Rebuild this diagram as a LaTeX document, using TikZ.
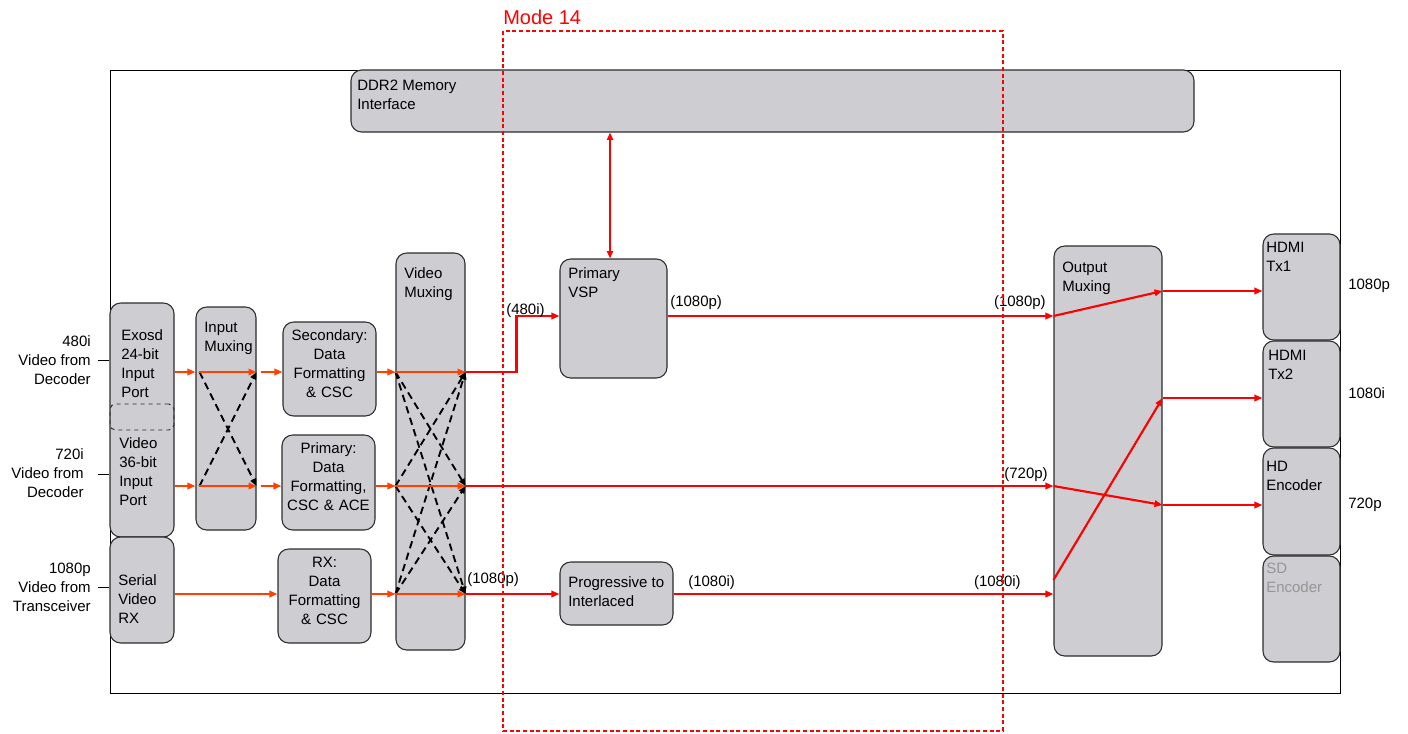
\documentclass[tikz,border=0pt]{standalone}
\usepackage{fontspec}
\setmainfont{Liberation Sans}
\usetikzlibrary{arrows.meta,calc,fit}
\definecolor{boxgray}{RGB}{205,205,210}
\definecolor{boxline}{RGB}{45,45,45}
\definecolor{orng}{RGB}{255,64,0}
\definecolor{modered}{RGB}{255,0,0}
\definecolor{sdgray}{RGB}{150,150,150}
\begin{document}
\begin{tikzpicture}[x=0.75pt,y=-0.75pt,
  box/.style={draw=boxline,fill=boxgray,line width=0.8pt,rounded corners=8pt,inner sep=0pt},
  txt/.style={inner sep=0pt,anchor=north west,align=left,font=\fontsize{11.25}{14.25}\selectfont},
  ctxt/.style={align=center,font=\fontsize{11.25}{14.25}\selectfont},
  lbl/.style={inner sep=0pt,font=\fontsize{11.25}{14.25}\selectfont},
  tipa/.tip={Triangle[length=6pt,width=4.8pt]},
  oarr/.style={draw=orng,line width=1.6pt,-tipa},
  rarr/.style={draw=modered,line width=1.6pt,-tipa},
  darr/.style={draw=black,line width=1.4pt,dash pattern=on 5.5pt off 3.5pt,-{Triangle[length=5.5pt,width=4.5pt]}},
]
\useasboundingbox (0,0) rectangle (1408,733);
\fill[white] (0,0) rectangle (1408,733);
% frame
\draw[black,line width=0.75pt] (110,70) rectangle (1340,693);

% row coordinates
\coordinate (r1) at (0,372);
\coordinate (r2) at (0,486);
\coordinate (r3) at (0,594);
\coordinate (r3b) at (0,580);
\coordinate (rv) at (0,316);
\coordinate (o1) at (0,291);
\coordinate (o2) at (0,398);
\coordinate (o3) at (0,505);

% boxes
\node[box,fit={(351,70)(1194,132)}] (ddr) {};
\node[txt] (tddr) at (357,79.5) {DDR2 Memory\\Interface};

\node[box,fit={(560,259)(667,378)}] (vsp) {};
\node[txt] (tvsp) at (568,267.5) {Primary\\VSP};

\node[box,fit={(110,303)(174,537)}] (inport) {};
\node[draw=boxline,dashed,line width=0.7pt,rounded corners=4pt,inner sep=0pt,fit={(110,404)(174,430)}] (sep) {};
\node[txt] (texo) at (121,329.5) {Exosd\\24-bit\\Input\\Port};
\node[txt] (tvid) at (119,437.5) {Video\\36-bit\\Input\\Port};

\node[box,fit={(110,537)(174,643)}] (serial) {};
\node[txt] (tser) at (118,574.5) {Serial\\Video\\RX};

\node[box,fit={(196,307)(256,530)}] (imux) {};
\node[txt] (timux) at (204,321.5) {Input\\Muxing};

\node[box,fit={(283,322)(376,416)},ctxt] (sec) {Secondary:\\Data\\Formatting\\\& CSC};
\node[box,fit={(282,435)(375,530)},ctxt] (prim) {Primary:\\Data\\Formatting,\\CSC \& ACE};
\node[box,fit={(278,549)(371,643)},ctxt] (rx) {RX:\\Data\\Formatting\\\& CSC};

\node[box,fit={(396,253)(465,650)}] (vmux) {};
\node[txt] (tvmux) at (404,267.5) {Video\\Muxing};

\node[box,fit={(560,562)(673,625)}] (p2i) {};
\node[txt] (tp2i) at (568,576.5) {Progressive to\\Interlaced};

\node[box,fit={(1054,246)(1162,656)}] (omux) {};
\node[txt] (tomux) at (1062,261.5) {Output\\Muxing};

\node[box,fit={(1263,234)(1340,340)}] (tx1) {};
\node[txt] (ttx1) at (1266,241.5) {HDMI\\Tx1};
\node[box,fit={(1263,341)(1340,447)}] (tx2) {};
\node[txt] (ttx2) at (1268,349.5) {HDMI\\Tx2};
\node[box,fit={(1263,448)(1340,555)}] (hdenc) {};
\node[txt] (thd) at (1266,460.5) {HD\\Encoder};
\node[box,fit={(1263,556)(1340,662)}] (sdenc) {};
\node[txt,text=sdgray] (tsd) at (1266,562.5) {SD\\Encoder};

% input labels
\node[lbl,align=right,anchor=east] (in1) at (91,360) {480i\\Video from\\Decoder};
\node[lbl,align=right,anchor=east] (in2) at (84,473) {720i\\Video from\\Decoder};
\node[lbl,align=right,anchor=east] (in3) at (91,587) {1080p\\Video from\\Transceiver};
\draw[black,line width=0.75pt] ($(in1.east)+(7,0)$) -- (inport.west|-in1.east);
\draw[black,line width=0.75pt] ($(in2.east)+(14,1)$) -- ($(inport.west|-in2.east)+(0,1)$);
\draw[black,line width=0.75pt] ($(in3.east)+(7,0)$) -- (serial.west|-in3.east);

% output labels
\node[lbl,anchor=west] (out1) at (1348,286) {1080p};
\node[lbl,anchor=west] (out2) at (1348,393) {1080i};
\node[lbl,anchor=west] (out3) at (1348,505) {720p};

% dashed crossings
\draw[darr] ($(imux.west|-r1)+(4,0)$) -- (imux.east|-r2);
\draw[darr] ($(imux.west|-r2)+(4,0)$) -- (imux.east|-r1);
\draw[darr] (vmux.west|-r1) -- (vmux.east|-r2);
\draw[darr] (vmux.west|-r1) -- (vmux.east|-r3);
\draw[darr] (vmux.west|-r2) -- (vmux.east|-r1);
\draw[darr] (vmux.west|-r2) -- (vmux.east|-r3);
\draw[darr] (vmux.west|-r3) -- (vmux.east|-r1);
\draw[darr] (vmux.west|-r3) -- (vmux.east|-r2);

% row 1
\draw[oarr] (inport.east|-r1) -- (imux.west|-r1);
\draw[oarr] ($(imux.west|-r1)+(4,0)$) -- (imux.east|-r1);
\draw[oarr] ($(imux.east|-r1)+(4,0)$) -- (sec.west|-r1);
\draw[oarr] (sec.east|-r1) -- (vmux.west|-r1);
\draw[oarr] (vmux.west|-r1) -- (vmux.east|-r1);
\draw[rarr] (vmux.east|-r1) -- ($(vmux.east|-r1)+(51,0)$) |- (vsp.west|-rv);
% row 2
\draw[oarr] (inport.east|-r2) -- (imux.west|-r2);
\draw[oarr] ($(imux.west|-r2)+(4,0)$) -- (imux.east|-r2);
\draw[oarr] ($(imux.east|-r2)+(4,0)$) -- (prim.west|-r2);
\draw[oarr] (prim.east|-r2) -- (vmux.west|-r2);
\draw[oarr] (vmux.west|-r2) -- (vmux.east|-r2);
\draw[rarr] (vmux.east|-r2) -- (omux.west|-r2);
% row 3
\draw[oarr] (serial.east|-r3) -- (rx.west|-r3);
\draw[oarr] (rx.east|-r3) -- (vmux.west|-r3);
\draw[oarr] (vmux.west|-r3) -- (vmux.east|-r3);
\draw[rarr] (vmux.east|-r3) -- (p2i.west|-r3);
\draw[rarr] (p2i.east|-r3) -- (omux.west|-r3);
% VSP
\draw[rarr] (vsp.east|-rv) -- (omux.west|-rv);
\draw[draw=modered,line width=1.3pt,{Triangle[length=5.5pt,width=4.5pt]}-{Triangle[length=5.5pt,width=4.5pt]}] (ddr.south-|610,0) -- (vsp.north-|610,0);
% output muxing
\draw[rarr] (omux.west|-rv) -- (omux.east|-o1);
\draw[rarr] (omux.east|-o1) -- (tx1.west|-o1);
\draw[rarr] (omux.west|-r3b) -- (omux.east|-o2);
\draw[rarr] (omux.east|-o2) -- (tx2.west|-o2);
\draw[rarr] (omux.west|-r2) -- (omux.east|-o3);
\draw[rarr] (omux.east|-o3) -- (hdenc.west|-o3);

% connector labels
\node[lbl,anchor=west] (l480) at (506,311) {(480i)};
\node[lbl,anchor=west] (l1080a) at (670,303) {(1080p)};
\node[lbl,anchor=east] (l1080b) at (1046,303) {(1080p)};
\node[lbl,anchor=east] (l720) at (1048,475) {(720p)};
\node[lbl,anchor=west] (l1080c) at (467,580) {(1080p)};
\node[lbl,anchor=west] (l1080i) at (688,583) {(1080i)};
\node[lbl,anchor=east] (l1080j) at (1021,583) {(1080i)};

% mode 14
\draw[draw=modered,line width=0.9pt,dash pattern=on 3pt off 2pt] (503,31) rectangle (1003,731);
\node[lbl,anchor=west,text=modered,font=\fontsize{15}{17}\selectfont] (mode) at (503,17) {Mode 14};
\end{tikzpicture}
\end{document}
